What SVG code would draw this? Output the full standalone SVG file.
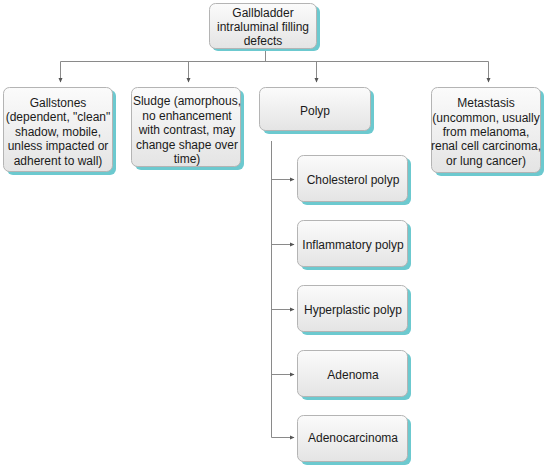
<svg xmlns="http://www.w3.org/2000/svg" width="552" height="468" viewBox="0 0 552 468">
<defs>
<linearGradient id="g" x1="0" y1="0" x2="0" y2="1">
<stop offset="0" stop-color="#fbfbfb"/>
<stop offset="1" stop-color="#e4e4e4"/>
</linearGradient>
<marker id="ah" markerWidth="5" markerHeight="5" refX="4" refY="2.5" orient="auto" markerUnits="userSpaceOnUse">
<path d="M0,0.5 L4.5,2.5 L0,4.5 Z" fill="#555"/>
</marker>
<style>
.sh{fill:#6cc9cf;}
.bx{fill:url(#g);stroke:#b4b4b4;stroke-width:1;}
.t{font-family:"Liberation Sans",Arial,sans-serif;font-size:12px;fill:#1a1a1a;text-anchor:middle;}
.c{fill:none;stroke:#8a8a8a;stroke-width:1;}
</style>
</defs>
<rect width="552" height="468" fill="#ffffff"/>
<g id="connectors">
<path class="c" d="M265.5,49 V61.5"/>
<path class="c" d="M60.5,61.5 H488.5"/>
<path class="c" d="M60.5,61.5 V82" marker-end="url(#ah)"/>
<path class="c" d="M188.5,61.5 V82" marker-end="url(#ah)"/>
<path class="c" d="M316.5,61.5 V82" marker-end="url(#ah)"/>
<path class="c" d="M488.5,61.5 V82" marker-end="url(#ah)"/>
<path class="c" d="M271.5,141 V437.5"/>
<path class="c" d="M271.5,179.5 H294" marker-end="url(#ah)"/>
<path class="c" d="M271.5,244.5 H294" marker-end="url(#ah)"/>
<path class="c" d="M271.5,309.5 H294" marker-end="url(#ah)"/>
<path class="c" d="M271.5,374.5 H294" marker-end="url(#ah)"/>
<path class="c" d="M271.5,437.5 H294" marker-end="url(#ah)"/>
</g>
<g id="root">
<rect class="sh" x="212" y="6" width="108" height="45" rx="6"/>
<rect class="bx" x="209.5" y="3.5" width="107" height="45" rx="6"/>
<text class="t" x="263" y="17">Gallbladder</text>
<text class="t" x="263" y="31">intraluminal filling</text>
<text class="t" x="263" y="45">defects</text>
</g>
<g id="gallstones">
<rect class="sh" x="7" y="90" width="109" height="85" rx="6"/>
<rect class="bx" x="3.5" y="87.5" width="109" height="84" rx="6"/>
<text class="t" x="58" y="107">Gallstones</text>
<text class="t" x="58" y="121">(dependent, "clean"</text>
<text class="t" x="58" y="135.5">shadow, mobile,</text>
<text class="t" x="58" y="150">unless impacted or</text>
<text class="t" x="58" y="164.5">adherent to wall)</text>
</g>
<g id="sludge">
<rect class="sh" x="135" y="90" width="109" height="80" rx="6"/>
<rect class="bx" x="131.5" y="87.5" width="109" height="79" rx="6"/>
<text class="t" x="187" y="105">Sludge (amorphous,</text>
<text class="t" x="187" y="119.5">no enhancement</text>
<text class="t" x="187" y="134">with contrast, may</text>
<text class="t" x="187" y="148.5">change shape over</text>
<text class="t" x="187" y="163">time)</text>
</g>
<g id="polyp">
<rect class="sh" x="263" y="90" width="111" height="44" rx="6"/>
<rect class="bx" x="259.5" y="87.5" width="111" height="43" rx="6"/>
<text class="t" x="315" y="115">Polyp</text>
</g>
<g id="metastasis">
<rect class="sh" x="435" y="90" width="109" height="86" rx="6"/>
<rect class="bx" x="431.5" y="87.5" width="109" height="85" rx="6"/>
<text class="t" x="486" y="107">Metastasis</text>
<text class="t" x="486" y="121.5">(uncommon, usually</text>
<text class="t" x="486" y="135.5">from melanoma,</text>
<text class="t" x="486" y="150">renal cell carcinoma,</text>
<text class="t" x="486" y="164.5">or lung cancer)</text>
</g>
<g id="cholesterol">
<rect class="sh" x="301" y="158" width="110" height="47" rx="6"/>
<rect class="bx" x="297.5" y="155.5" width="110" height="46" rx="6"/>
<text class="t" x="353" y="184">Cholesterol polyp</text>
</g>
<g id="inflammatory">
<rect class="sh" x="301" y="223" width="110" height="47" rx="6"/>
<rect class="bx" x="297.5" y="220.5" width="110" height="46" rx="6"/>
<text class="t" x="353" y="249">Inflammatory polyp</text>
</g>
<g id="hyperplastic">
<rect class="sh" x="301" y="288" width="110" height="47" rx="6"/>
<rect class="bx" x="297.5" y="285.5" width="110" height="46" rx="6"/>
<text class="t" x="353" y="314">Hyperplastic polyp</text>
</g>
<g id="adenoma">
<rect class="sh" x="301" y="353" width="110" height="47" rx="6"/>
<rect class="bx" x="297.5" y="350.5" width="110" height="46" rx="6"/>
<text class="t" x="353" y="379">Adenoma</text>
</g>
<g id="adenocarcinoma">
<rect class="sh" x="301" y="418" width="110" height="47" rx="6"/>
<rect class="bx" x="297.5" y="415.5" width="110" height="46" rx="6"/>
<text class="t" x="353" y="442">Adenocarcinoma</text>
</g>
</svg>
